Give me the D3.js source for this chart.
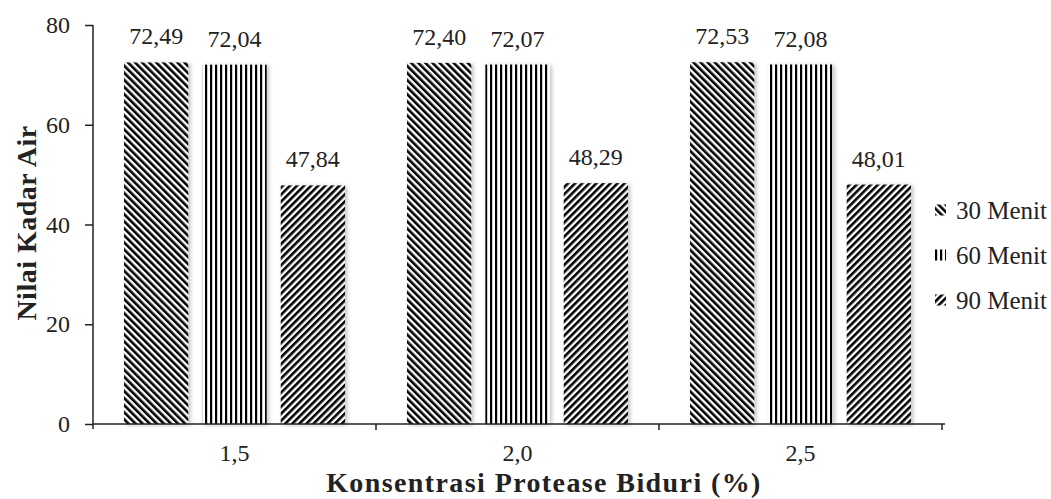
<!DOCTYPE html>
<html>
<head>
<meta charset="utf-8">
<script src="https://cdn.jsdelivr.net/npm/d3@7"></script>
<style>
  html, body { margin: 0; padding: 0; background: #fff; }
  svg { display: block; }
  svg text { font-family: "Liberation Serif", "Times New Roman", Times, "DejaVu Serif", serif !important; fill: #222; }
</style>
</head>
<body>
<svg id="chart" width="1051" height="499"></svg>
<script>
// Kadar air per konsentrasi protease biduri dan lama perendaman
const categories = ["1,5", "2,0", "2,5"];
const seriesNames = ["30 Menit", "60 Menit", "90 Menit"];
const menit30 = [72.49, 72.40, 72.53];
const menit60 = [72.04, 72.07, 72.08];
const menit90 = [47.84, 48.29, 48.01];
const yTicks = [0, 20, 40, 60, 80];

const seriesValues = [menit30, menit60, menit90];
const rows = [];
categories.forEach((c, ci) => {
  seriesNames.forEach((s, si) => rows.push({ cat: c, series: s, si, value: seriesValues[si][ci] }));
});

const serif = "'Liberation Serif', 'Times New Roman', serif";
const svg = d3.select("#chart").attr("font-family", serif);
const plotLeft = 93, plotRight = 942, plotTop = 25, plotBottom = 424;

const x = d3.scaleBand().domain(categories).range([plotLeft, plotRight]);
const xs = d3.scaleBand().domain(seriesNames)
  .range([31, x.bandwidth() - 31]).paddingInner(0.18);
const y = d3.scaleLinear().domain([0, 80]).range([plotBottom, plotTop]);

const defs = svg.append("defs");

// Striped fills: "\" diagonal, vertical, "/" diagonal
function stripePattern(id, period, dark, angle) {
  const p = defs.append("pattern")
    .attr("id", id)
    .attr("patternUnits", "userSpaceOnUse")
    .attr("width", period).attr("height", period)
    .attr("patternTransform", `rotate(${angle})`);
  p.append("rect").attr("width", period).attr("height", period).attr("fill", "#fff");
  p.append("rect").attr("width", dark).attr("height", period).attr("fill", "#000");
}
stripePattern("pat30", 5, 2.6, -45);
stripePattern("pat60", 5, 2.2, 0);
stripePattern("pat90", 5, 2.6, 45);
const fills = { "30 Menit": "url(#pat30)", "60 Menit": "url(#pat60)", "90 Menit": "url(#pat90)" };

// soft edge and light shadow around the bars
const f = defs.append("filter").attr("id", "soft")
  .attr("x", "-10%").attr("y", "-5%").attr("width", "125%").attr("height", "112%");
f.append("feGaussianBlur").attr("in", "SourceAlpha").attr("stdDeviation", 2).attr("result", "b");
f.append("feOffset").attr("in", "b").attr("dx", 1.5).attr("dy", 1).attr("result", "o");
f.append("feComponentTransfer").attr("in", "o").attr("result", "s")
  .append("feFuncA").attr("type", "linear").attr("slope", 0.25);
f.append("feGaussianBlur").attr("in", "SourceGraphic").attr("stdDeviation", 0.6).attr("result", "g");
const m = f.append("feMerge");
m.append("feMergeNode").attr("in", "s");
m.append("feMergeNode").attr("in", "g");

// Bars
const bars = svg.append("g").attr("filter", "url(#soft)");
bars.selectAll("rect").data(rows).join("rect")
  .attr("x", d => x(d.cat) + xs(d.series))
  .attr("y", d => y(d.value))
  .attr("width", xs.bandwidth())
  .attr("height", d => y(0) - y(d.value))
  .attr("fill", d => fills[d.series]);

// Value labels
const fmt = v => d3.format(".2f")(v).replace(".", ",");
svg.append("g").selectAll("text").data(rows).join("text")
  .attr("x", d => x(d.cat) + xs(d.series) + xs.bandwidth() / 2)
  .attr("y", d => y(d.value) - 18)
  .attr("text-anchor", "middle")
  .style("font-size", "24px")
  .text(d => fmt(d.value));

// Y axis
const yAxis = svg.append("g").attr("transform", `translate(${plotLeft},0)`)
  .call(d3.axisLeft(y).tickValues(yTicks).tickSize(8).tickSizeOuter(0).tickPadding(15));
yAxis.attr("font-family", serif);
yAxis.select(".domain").attr("d", `M0,${plotTop}V${plotBottom + 5}`);
yAxis.selectAll(".tick text").style("font-size", "24px").attr("dy", "0.32em");

// X axis
const xAxis = svg.append("g").attr("transform", `translate(0,${plotBottom})`)
  .call(d3.axisBottom(x).tickSize(0).tickPadding(20));
xAxis.attr("font-family", serif);
xAxis.select(".domain").attr("d", `M${plotLeft},0H${plotRight + 3}`);
xAxis.selectAll(".tick text").style("font-size", "24px").attr("dy", "0.71em");
xAxis.selectAll(".boundary").data(categories).join("line")
  .attr("class", "boundary")
  .attr("x1", d => x(d) + x.bandwidth()).attr("x2", d => x(d) + x.bandwidth())
  .attr("y1", 0).attr("y2", 6);
svg.selectAll(".domain, .tick line, .boundary")
  .attr("stroke", "#222").attr("stroke-width", 1.5);

// Axis titles
svg.append("text")
  .attr("x", 544).attr("y", 492)
  .attr("text-anchor", "middle")
  .style("font-size", "28px").style("font-weight", "bold")
  .style("letter-spacing", "1.4px")
  .text("Konsentrasi Protease Biduri (%)");
svg.append("text")
  .attr("transform", "translate(36,223) rotate(-90)")
  .attr("text-anchor", "middle")
  .style("font-size", "28px").style("font-weight", "bold")
  .style("letter-spacing", "0.5px")
  .text("Nilai Kadar Air");

// Legend
const legend = svg.append("g");
const ly = d3.scalePoint().domain(seriesNames).range([210, 300]);
const li = legend.selectAll("g").data(seriesNames).join("g")
  .attr("transform", d => `translate(935,${ly(d)})`);
li.append("rect").attr("x", 0).attr("y", -5.5).attr("width", 11).attr("height", 11)
  .attr("fill", d => fills[d]);
li.append("text").attr("x", 21).attr("y", 0).attr("dy", "0.35em")
  .style("font-size", "25px").text(d => d);
</script>
</body>
</html>
